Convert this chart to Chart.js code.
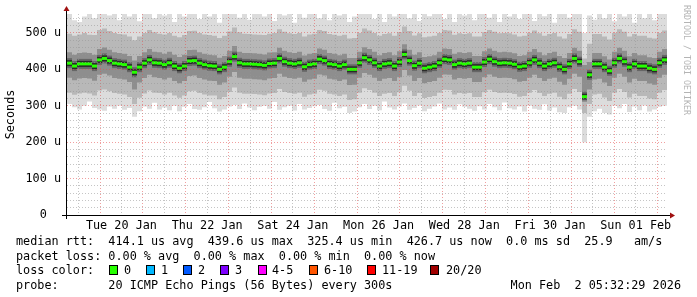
<!DOCTYPE html>
<html>
<head>
<meta charset="utf-8">
<script src="https://cdn.jsdelivr.net/npm/chart.js@4.4.1/dist/chart.umd.min.js"></script>
<style>
body { margin: 0; background: #fff; }
#wrap { position: relative; width: 697px; height: 297px; overflow: hidden; font-family: 'DejaVu Sans Mono', monospace; font-size: 11.8px; color: #000; }
canvas { position: absolute; left: 0; top: 0; }
.ln { position: absolute; left: 16px; white-space: pre; line-height: 14px; }
.sw { position: absolute; width: 9px; height: 10px; box-sizing: border-box; border: 1px solid #000; }
.lb { position: absolute; white-space: pre; line-height: 14px; }
#wm { position: absolute; left: 682px; top: 5px; writing-mode: vertical-rl; font-size: 8.3px; line-height: 9px; color: #b4b4b4; }
</style>
</head>
<body>
<div id="wrap">
  <canvas id="graph" width="697" height="297"></canvas>
  <div id="wm">RRDTOOL / TOBI OETIKER</div>
  <div class="ln" style="top:234px">median rtt:  414.1 us avg  439.6 us max  325.4 us min  426.7 us now  0.0 ms sd  25.9   am/s</div>
  <div class="ln" style="top:249px">packet loss: 0.00 % avg  0.00 % max  0.00 % min  0.00 % now</div>
  <div class="ln" style="top:263px">loss color:</div>
  <div class="ln" style="top:278px">probe:       20 ICMP Echo Pings (56 Bytes) every 300s</div>
  <div class="lb" style="top:278px;right:16px">Mon Feb  2 05:32:29 2026</div>
</div>
<script>
// time in days, 0 = Tue 20 Jan 00:00; one value every 5 px column
const tStart = -0.77;
const tEnd = 13.23;

const median = [
  417, 409, 415, 415, 415, 409, 426, 430, 424, 417,
  415, 413, 406, 392, 406, 417, 426, 418, 417, 413,
  418, 409, 403, 409, 423, 424, 417, 413, 410, 409,
  400, 406, 421, 435, 418, 415, 415, 414, 413, 411,
  416, 417, 430, 421, 417, 415, 418, 407, 413, 415,
  428, 424, 415, 413, 409, 413, 400, 400, 418, 432,
  426, 418, 409, 415, 417, 409, 420, 441, 424, 410,
  417, 403, 406, 409, 418, 428, 426, 413, 417, 415,
  417, 406, 406, 420, 428, 421, 417, 418, 417, 414,
  407, 409, 418, 426, 417, 409, 415, 418, 407, 400,
  415, 430, 421, 325, 385, 415, 415, 406, 396, 418,
  430, 421, 406, 415, 409, 409, 403, 400, 418, 426
];

const smokeMax = [
  560, 535, 530, 545, 560, 540, 560, 560, 548, 560,
  535, 560, 545, 560, 532, 560, 560, 540, 560, 548,
  560, 530, 560, 545, 560, 560, 538, 560, 545, 560,
  528, 560, 560, 560, 542, 560, 536, 560, 560, 545,
  560, 533, 560, 548, 560, 528, 560, 542, 560, 560,
  540, 560, 535, 560, 548, 560, 530, 545, 560, 560,
  560, 538, 560, 530, 560, 545, 560, 560, 540, 560,
  533, 560, 546, 560, 560, 538, 560, 530, 560, 548,
  560, 535, 560, 560, 542, 560, 530, 560, 545, 560,
  538, 560, 560, 533, 560, 546, 560, 528, 560, 560,
  542, 560, 560, 500, 548, 536, 560, 540, 560, 532,
  560, 545, 560, 528, 560, 540, 560, 535, 560, 560
];

const smokeHi2 = [
  498, 492, 496, 500, 495, 494, 508, 512, 505, 500,
  497, 496, 490, 480, 490, 500, 508, 502, 498, 496,
  500, 492, 488, 494, 505, 506, 500, 496, 494, 492,
  486, 492, 504, 515, 502, 498, 497, 496, 495, 494,
  498, 500, 510, 503, 499, 497, 500, 490, 496, 498,
  508, 505, 497, 495, 492, 495, 485, 486, 500, 512,
  507, 500, 492, 497, 499, 492, 502, 518, 505, 493,
  499, 488, 490, 492, 500, 508, 507, 495, 499, 497,
  499, 490, 490, 502, 508, 503, 499, 500, 499, 496,
  490, 492, 500, 507, 499, 492, 497, 500, 490, 485,
  497, 510, 503, 430, 470, 497, 497, 490, 482, 500,
  510, 503, 490, 497, 492, 492, 487, 485, 500, 507
];

const smokeHi1 = [
  447, 440, 445, 446, 445, 440, 456, 460, 454, 447,
  445, 443, 437, 424, 437, 447, 456, 448, 447, 443,
  448, 440, 434, 440, 453, 454, 447, 443, 440, 439,
  432, 437, 451, 464, 448, 445, 445, 444, 443, 441,
  446, 447, 459, 451, 447, 445, 448, 438, 443, 445,
  457, 454, 445, 443, 439, 443, 431, 431, 448, 461,
  456, 448, 439, 445, 447, 439, 450, 469, 454, 440,
  447, 434, 436, 439, 448, 457, 456, 443, 447, 445,
  447, 437, 437, 450, 457, 451, 447, 448, 447, 444,
  437, 439, 448, 456, 447, 439, 445, 448, 437, 431,
  445, 459, 451, 412, 420, 445, 445, 436, 427, 448,
  459, 451, 436, 445, 439, 439, 433, 431, 448, 456
];

const smokeLo1 = [
  377, 370, 375, 376, 375, 369, 385, 388, 383, 376,
  374, 372, 365, 345, 364, 376, 385, 378, 376, 372,
  377, 368, 362, 368, 382, 383, 376, 372, 369, 368,
  358, 364, 380, 393, 377, 374, 374, 373, 372, 370,
  375, 376, 388, 380, 376, 374, 377, 366, 372, 374,
  386, 383, 374, 372, 368, 372, 357, 358, 377, 390,
  385, 377, 368, 374, 376, 368, 378, 398, 383, 368,
  376, 362, 365, 368, 377, 386, 385, 372, 376, 374,
  376, 365, 365, 378, 386, 380, 376, 377, 376, 373,
  366, 368, 377, 385, 376, 368, 374, 377, 366, 358,
  374, 388, 380, 320, 345, 372, 374, 364, 354, 377,
  388, 380, 364, 374, 368, 368, 361, 358, 377, 385
];

const smokeLo2 = [
  336, 330, 334, 336, 334, 328, 342, 345, 340, 335,
  333, 331, 324, 305, 322, 334, 342, 336, 335, 331,
  336, 328, 322, 328, 340, 341, 335, 331, 328, 328,
  318, 324, 338, 350, 336, 333, 333, 332, 331, 329,
  334, 335, 346, 338, 335, 333, 336, 325, 331, 333,
  344, 341, 333, 331, 327, 331, 316, 318, 336, 348,
  343, 336, 327, 333, 335, 327, 337, 355, 341, 327,
  335, 321, 324, 327, 336, 344, 343, 331, 335, 333,
  335, 324, 324, 337, 344, 338, 335, 336, 335, 332,
  325, 327, 336, 343, 335, 327, 333, 336, 325, 318,
  333, 346, 338, 280, 305, 331, 333, 323, 313, 336,
  346, 338, 323, 333, 327, 327, 320, 318, 336, 343
];

const smokeMin = [
  305, 296, 290, 300, 312, 294, 290, 286, 298, 292,
  300, 289, 294, 270, 285, 298, 292, 308, 290, 295,
  288, 300, 285, 297, 305, 291, 289, 296, 310, 293,
  284, 290, 298, 302, 291, 306, 295, 288, 297, 300,
  292, 310, 289, 296, 300, 287, 305, 290, 294, 299,
  302, 291, 286, 308, 293, 297, 280, 284, 296, 305,
  291, 300, 288, 312, 295, 290, 298, 306, 289, 294,
  301, 285, 292, 298, 306, 290, 295, 289, 304, 297,
  292, 286, 299, 290, 305, 296, 288, 309, 293, 290,
  298, 284, 300, 292, 289, 304, 287, 295, 282, 280,
  296, 300, 290, 200, 270, 285, 292, 280, 276, 300,
  293, 305, 283, 298, 288, 301, 284, 290, 297, 300
];

const xTickDays = [0.5, 2.5, 4.5, 6.5, 8.5, 10.5, 12.5];
const xTickLabels = ['Tue 20 Jan', 'Thu 22 Jan', 'Sat 24 Jan', 'Mon 26 Jan', 'Wed 28 Jan', 'Fri 30 Jan', 'Sun 01 Feb'];
const yTickValues = [0, 100, 200, 300, 400, 500];
const yTickLabels = ['0  ', '100 u', '200 u', '300 u', '400 u', '500 u'];

const lossLabels = ['0', '1', '2', '3', '4-5', '6-10', '11-19', '20/20'];
const lossColors = ['#26ff00', '#00b8ff', '#0059ff', '#7e00ff', '#ff00ff', '#ff5500', '#ff0000', '#a10000'];

// loss legend layout (px)
const swatchX = [109, 146, 183, 220, 258, 309, 367, 430];
const labelX = [124, 161, 198, 235, 272, 324, 382, 446];

const wrap = document.getElementById('wrap');
lossLabels.forEach(function(txt, i) {
    const sw = document.createElement('div');
    sw.className = 'sw';
    sw.style.left = swatchX[i] + 'px';
    sw.style.top = '265px';
    sw.style.background = lossColors[i];
    wrap.appendChild(sw);
    const lb = document.createElement('div');
    lb.className = 'lb';
    lb.style.left = labelX[i] + 'px';
    lb.style.top = '263px';
    lb.textContent = txt;
    wrap.appendChild(lb);
});

const step = (tEnd - tStart) / median.length;

function steppedPoints(arr) {
    const pts = arr.map((v, i) => ({x: tStart + i * step, y: v}));
    pts.push({x: tEnd, y: arr[arr.length - 1]});
    return pts;
}

function centerPoints(arr) {
    return arr.map((v, i) => ({x: tStart + (i + 0.5) * step, y: v}));
}

function blocks(arr, color, thick) {
    return {
        data: centerPoints(arr),
        showLine: false,
        pointStyle: 'line',
        pointRadius: 2.5,
        pointHoverRadius: 2.5,
        pointBorderColor: color,
        pointBackgroundColor: color,
        pointBorderWidth: thick,
        pointHoverBorderWidth: thick
    };
}

function band(arr, fillTo, color) {
    return {
        data: steppedPoints(arr),
        stepped: true,
        borderWidth: 0,
        borderColor: 'rgba(0,0,0,0)',
        pointRadius: 0,
        fill: fillTo,
        backgroundColor: color
    };
}

const font = {family: "'DejaVu Sans Mono', monospace", size: 11.8};
const minorGrid = 'rgba(150,150,150,0.55)';
const majorGrid = 'rgba(230,80,80,0.55)';

// axis lines with arrow heads, like rrdtool
const axisArrows = {
    id: 'axisArrows',
    afterDraw(chart) {
        const {ctx, chartArea: a} = chart;
        ctx.save();
        ctx.strokeStyle = '#000';
        ctx.lineWidth = 1;
        ctx.beginPath();
        ctx.moveTo(a.left - 5, a.bottom + 0.5);
        ctx.lineTo(a.right + 3, a.bottom + 0.5);
        ctx.moveTo(a.left - 0.5, a.bottom + 4);
        ctx.lineTo(a.left - 0.5, a.top - 3);
        ctx.stroke();
        ctx.fillStyle = '#a01010';
        ctx.beginPath();
        ctx.moveTo(a.right + 8, a.bottom + 0.5);
        ctx.lineTo(a.right + 3, a.bottom - 2.5);
        ctx.lineTo(a.right + 3, a.bottom + 3.5);
        ctx.closePath();
        ctx.fill();
        ctx.beginPath();
        ctx.moveTo(a.left - 0.5, a.top - 8);
        ctx.lineTo(a.left - 3.5, a.top - 3);
        ctx.lineTo(a.left + 2.5, a.top - 3);
        ctx.closePath();
        ctx.fill();
        ctx.restore();
    }
};

new Chart(document.getElementById('graph'), {
    type: 'line',
    data: {
        datasets: [
            blocks(median, '#26ff00', 3),
            blocks(median, 'rgba(0,0,0,0.6)', 6),
            blocks(median, 'rgba(30,30,30,0.35)', 10),
            band(smokeHi1, 4, '#8e8e8e'),
            band(smokeLo1, false, '#8e8e8e'),
            band(smokeHi2, 6, '#b8b8b8'),
            band(smokeLo2, false, '#b8b8b8'),
            band(smokeMax, 8, '#dcdcdc'),
            band(smokeMin, false, '#dcdcdc')
        ]
    },
    options: {
        responsive: false,
        animation: false,
        devicePixelRatio: 1,
        events: [],
        layout: {padding: {left: 0, top: 14, right: 30, bottom: 62}},
        plugins: {legend: {display: false}, tooltip: {enabled: false}},
        scales: {
            x: {
                type: 'linear',
                min: tStart,
                max: tEnd,
                afterFit: s => { s.height = 20; },
                afterBuildTicks: s => {
                    const t = [];
                    for (let v = -0.5; v <= 13; v += 0.5) t.push({value: v});
                    s.ticks = t;
                },
                ticks: {
                    autoSkip: false,
                    maxRotation: 0,
                    padding: 4,
                    font: font,
                    color: '#000',
                    callback: v => {
                        const k = xTickDays.indexOf(v);
                        return k >= 0 ? xTickLabels[k] : '';
                    }
                },
                grid: {
                    drawTicks: false,
                    z: 1,
                    color: c => Number.isInteger(c.tick.value) ? majorGrid : minorGrid
                },
                border: {display: false, dash: [1, 2]}
            },
            y: {
                min: 0,
                max: 552,
                afterFit: s => { s.width = 67; },
                afterBuildTicks: s => {
                    const t = [];
                    for (let v = 0; v <= 540; v += 20) t.push({value: v});
                    s.ticks = t;
                },
                ticks: {
                    autoSkip: false,
                    padding: 6,
                    font: font,
                    color: '#000',
                    callback: v => {
                        const k = yTickValues.indexOf(v);
                        return k >= 0 ? yTickLabels[k] : '';
                    }
                },
                grid: {
                    drawTicks: false,
                    z: 1,
                    color: c => c.tick.value % 100 === 0 ? majorGrid : minorGrid
                },
                border: {display: false, dash: [1, 2]},
                title: {
                    display: true,
                    text: 'Seconds',
                    font: font,
                    color: '#000',
                    padding: {top: 4, bottom: 0}
                }
            }
        }
    },
    plugins: [axisArrows]
});
</script>
</body>
</html>
